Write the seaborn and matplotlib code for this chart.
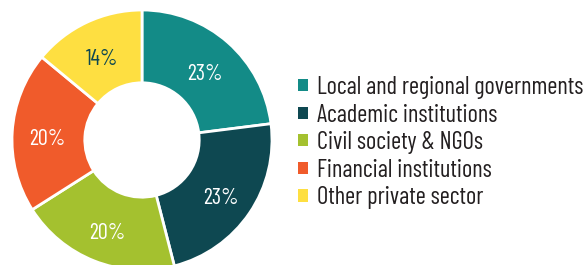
import matplotlib
matplotlib.use("Agg")
from matplotlib import pyplot as plt
from matplotlib.patches import Patch
import seaborn as sns

sns.set_style('white')
plt.rcParams['font.family'] = ['Barlow Condensed', 'DejaVu Sans']

categories = ['Local and regional governments', 'Academic institutions', 'Civil society & NGOs',
              'Financial institutions', 'Other private sector']
shares = [23, 23, 20, 20, 14]
colors = ['#138b87', '#0e4851', '#a4c12f', '#f05b2b', '#fedf41']
label_colors = ['white', 'white', 'white', 'white', '#0e4851']

fig = plt.figure(figsize=(5.85, 2.65), dpi=100)
ax = fig.add_axes([12 / 585, -5 / 265, 260 / 585, 260 / 265])

wedges, texts = ax.pie(shares, colors=colors, startangle=90, counterclock=False,
                       radius=1, labels=[f'{s}%' for s in shares], labeldistance=0.73,
                       wedgeprops=dict(width=0.56, edgecolor='white', linewidth=2))
for t, c in zip(texts, label_colors):
    x, y = t.get_position()
    t.set_position((x, y - 0.04))
    t.set_color(c)
    t.set_fontsize(16)
    t.set_ha('center')
    t.set_va('center')
ax.set_xlim(-1, 1)
ax.set_ylim(-1, 1)
ax.set_aspect('equal')
ax.axis('off')

handles = [Patch(facecolor=c, edgecolor='none') for c in colors]
fig.legend(handles, categories, loc='upper left', bbox_to_anchor=(298 / 585, 1 - 76 / 265),
           frameon=False, fontsize=17.6, handlelength=0.4, handleheight=0.4,
           handletextpad=0.38, labelspacing=0.185, borderpad=0, borderaxespad=0,
           labelcolor='#231f20')

fig.savefig('out.png', dpi=100)
